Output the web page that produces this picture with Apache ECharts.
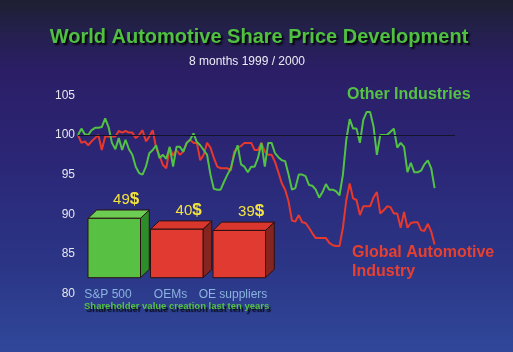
<!DOCTYPE html>
<html>
<head>
<meta charset="utf-8">
<script src="https://cdn.jsdelivr.net/npm/echarts@6/dist/echarts.min.js"></script>
<style>
html,body{margin:0;padding:0;background:#1e1f30;}
#chart{width:513px;height:352px;}
</style>
</head>
<body>
<div id="chart"></div>
<script>
// ---- Data ----
const titleText = 'World Automotive Share Price Development';
const subtitleText = '8 months 1999 / 2000';
const yTicks = [80, 85, 90, 95, 100, 105];
const otherIndustries = [
  100.0,100.8,100.1,100.0,100.6,100.9,100.9,101.0,102.1,101.0,
  99.0,98.2,99.6,98.1,99.4,98.2,97.5,96.0,95.2,95.0,
  96.0,97.7,98.1,98.7,97.1,97.5,97.0,98.5,96.0,98.5,
  98.5,97.9,99.0,99.4,100.2,99.1,98.7,98.1,97.5,95.0,
  93.2,93.1,93.1,94.1,95.0,95.8,97.5,98.7,96.3,96.0,
  95.3,96.0,96.0,97.1,99.0,96.0,99.0,99.0,97.7,97.2,
  96.8,96.7,95.0,93.1,93.3,95.0,95.0,94.8,93.7,93.6,
  93.1,92.1,92.8,93.8,93.1,93.1,92.9,92.4,95.0,99.4,
  102.0,100.8,100.8,99.0,101.9,102.9,102.9,101.1,97.5,100.0,
  100.0,100.0,100.4,100.8,98.4,99.0,98.5,95.3,96.5,95.3,
  95.3,95.5,96.3,96.8,95.8,93.3
];
const globalAutomotive = [
  100.0,99.0,99.2,98.7,99.2,99.6,100.0,98.1,99.8,99.8,
  99.8,99.8,100.5,100.3,100.5,100.3,100.3,99.6,100.0,100.6,
  99.2,99.8,100.6,98.4,97.4,96.2,95.8,98.4,97.4,98.1,
  97.5,97.9,99.0,99.4,99.0,99.0,96.8,97.5,99.0,98.4,
  97.1,96.0,95.8,95.8,95.8,95.5,97.9,98.4,98.6,99.0,
  99.0,99.0,98.1,98.1,99.0,97.9,97.5,97.5,96.6,95.3,
  93.9,93.1,91.6,89.2,89.1,89.9,89.0,88.9,88.3,87.6,
  87.0,87.0,87.0,87.0,86.4,86.1,86.0,86.0,88.3,91.8,
  93.9,92.0,91.8,89.9,91.0,91.0,91.0,92.1,92.8,90.1,
  90.5,91.0,90.9,90.1,90.1,88.3,90.3,88.3,88.9,89.0,
  89.0,88.0,87.9,88.8,87.8,86.2
];
const emptyTail = 6; // period slots after the last observation (axis extends to the reference line end)
const baseline = 100;
const barCategories = ['S&P 500', 'OEMs', 'OE suppliers'];
const barValues = [49, 40, 39];
const barNote = 'Shareholder value creation last ten years';

// ---- Styles ----
const FONT = '"Liberation Sans", Arial, Helvetica, sans-serif';
const GREEN = '#52c244';
const RED = '#e8382c';
const boxStyles = [
  {front: '#58c043', top: '#6ccd52', side: '#2e8d2b'},
  {front: '#e13b31', top: '#d9372e', side: '#86241f'},
  {front: '#e13b31', top: '#d9372e', side: '#86241f'}
];

// ---- Build ----
const nPoints = otherIndustries.length + emptyTail;
const periods = [];
for (let i = 0; i < nPoints; i++) periods.push(String(i + 1));
const pad = arr => arr.concat(new Array(emptyTail).fill('-'));

function renderBox(params, api) {
  const i = params.dataIndex;
  const st = boxStyles[i];
  const base = api.coord([api.value(0), 0]);
  const top = api.coord([api.value(0), api.value(1)]);
  const band = api.size([1, 0])[0];
  const w = band * 0.84;
  const cx = base[0] + band * 0.1;
  const x0 = cx - w / 2, x1 = cx + w / 2;
  const yb = base[1], yt = top[1];
  const dx = band * 0.14, dy = band * 0.133;
  const stroke = '#2a1010';
  return {
    type: 'group',
    children: [
      {type: 'polygon', shape: {points: [[x1, yt], [x1 + dx, yt - dy], [x1 + dx, yb - dy], [x1, yb]]},
       style: {fill: st.side, stroke: stroke, lineWidth: 1}},
      {type: 'polygon', shape: {points: [[x0, yt], [x0 + dx, yt - dy], [x1 + dx, yt - dy], [x1, yt]]},
       style: {fill: st.top, stroke: stroke, lineWidth: 1}},
      {type: 'rect', shape: {x: x0, y: yt, width: w, height: yb - yt},
       style: {fill: st.front, stroke: stroke, lineWidth: 1}},
      {type: 'text', x: cx + band * 0.19, y: yt - dy - 10.5,
       style: {
         text: '{n|' + api.value(1) + '}{d|$}',
         align: 'center', verticalAlign: 'middle',
         textAlign: 'center', textVerticalAlign: 'middle',
         fill: '#f2e43c',
         rich: {
           n: {fontSize: 15, fontFamily: FONT, fill: '#f2e43c', color: '#f2e43c'},
           d: {fontSize: 17, fontWeight: 'bold', fontFamily: FONT, fill: '#f2e43c', color: '#f2e43c'}
         }
       }}
    ]
  };
}

const chart = echarts.init(document.getElementById('chart'), null, {renderer: 'canvas'});
const option = {
  animation: false,
  backgroundColor: {
    type: 'linear', x: 0, y: 0, x2: 0, y2: 1,
    colorStops: [
      {offset: 0, color: '#1e1f30'},
      {offset: 0.08, color: '#23204a'},
      {offset: 0.2, color: '#2b1e66'},
      {offset: 0.45, color: '#2b2676'},
      {offset: 0.75, color: '#2b3586'},
      {offset: 1, color: '#30489a'}
    ]
  },
  graphic: [
    {type: 'text', x: 259, y: 37,
     style: {text: titleText, font: 'bold 20px ' + FONT, fill: '#4fc03f',
             align: 'center', verticalAlign: 'middle', textAlign: 'center', textVerticalAlign: 'middle',
             textShadowColor: 'rgba(0,0,0,0.9)', textShadowBlur: 2, textShadowOffsetX: 2, textShadowOffsetY: 2}},
    {type: 'text', x: 247, y: 61.5,
     style: {text: subtitleText, font: '12px ' + FONT, fill: '#ececf4',
             align: 'center', verticalAlign: 'middle', textAlign: 'center', textVerticalAlign: 'middle'}},
    {type: 'text', x: 347, y: 95,
     style: {text: 'Other Industries', font: 'bold 16px ' + FONT, fill: '#55c244',
             align: 'left', verticalAlign: 'middle', textAlign: 'left', textVerticalAlign: 'middle'}},
    {type: 'text', x: 352, y: 262,
     style: {text: 'Global Automotive\nIndustry', font: 'bold 16px ' + FONT, fill: '#e8402e', lineHeight: 19,
             align: 'left', verticalAlign: 'middle', textAlign: 'left', textVerticalAlign: 'middle'}},
    {type: 'text', x: 84, y: 306.5,
     style: {text: barNote, font: 'bold 9.5px ' + FONT, fill: '#55c244',
             align: 'left', verticalAlign: 'middle', textAlign: 'left', textVerticalAlign: 'middle',
             textShadowColor: 'rgba(0,0,0,0.85)', textShadowBlur: 1, textShadowOffsetX: 2, textShadowOffsetY: 3}}
  ],
  grid: [
    {left: 78, top: 95.3, width: 377, height: 198.3, containLabel: false},
    {left: 76.75, top: 156.5, width: 187.5, height: 121.2, containLabel: false}
  ],
  xAxis: [
    {type: 'category', gridIndex: 0, data: periods, boundaryGap: false, show: false},
    {type: 'category', gridIndex: 1, data: barCategories,
     axisLine: {show: false}, axisTick: {show: false},
     axisLabel: {color: '#8ab4de', fontSize: 12, fontFamily: FONT, margin: 11, interval: 0}}
  ],
  yAxis: [
    {type: 'value', gridIndex: 0, min: yTicks[0], max: yTicks[yTicks.length - 1], interval: 5,
     axisLine: {show: false}, axisTick: {show: false}, splitLine: {show: false},
     axisLabel: {color: '#e6e6f0', fontSize: 12, fontFamily: FONT, margin: 3}},
    {type: 'value', gridIndex: 1, min: 0, max: 100, show: false, splitLine: {show: false}}
  ],
  series: [
    {type: 'line', name: 'Other Industries', xAxisIndex: 0, yAxisIndex: 0,
     data: pad(otherIndustries), symbol: 'none', lineStyle: {color: GREEN, width: 2}, itemStyle: {color: GREEN},
     markLine: {silent: true, symbol: 'none', label: {show: false},
                lineStyle: {color: '#141428', width: 1.2, type: 'solid'},
                data: [{yAxis: baseline}]}, z: 3},
    {type: 'line', name: 'Global Automotive Industry', xAxisIndex: 0, yAxisIndex: 0,
     data: pad(globalAutomotive), symbol: 'none', lineStyle: {color: RED, width: 2}, itemStyle: {color: RED}, z: 2},
    {type: 'custom', xAxisIndex: 1, yAxisIndex: 1, renderItem: renderBox,
     data: barValues.map((v, i) => [i, v]), z: 5}
  ]
};
chart.setOption(option);
</script>
</body>
</html>
